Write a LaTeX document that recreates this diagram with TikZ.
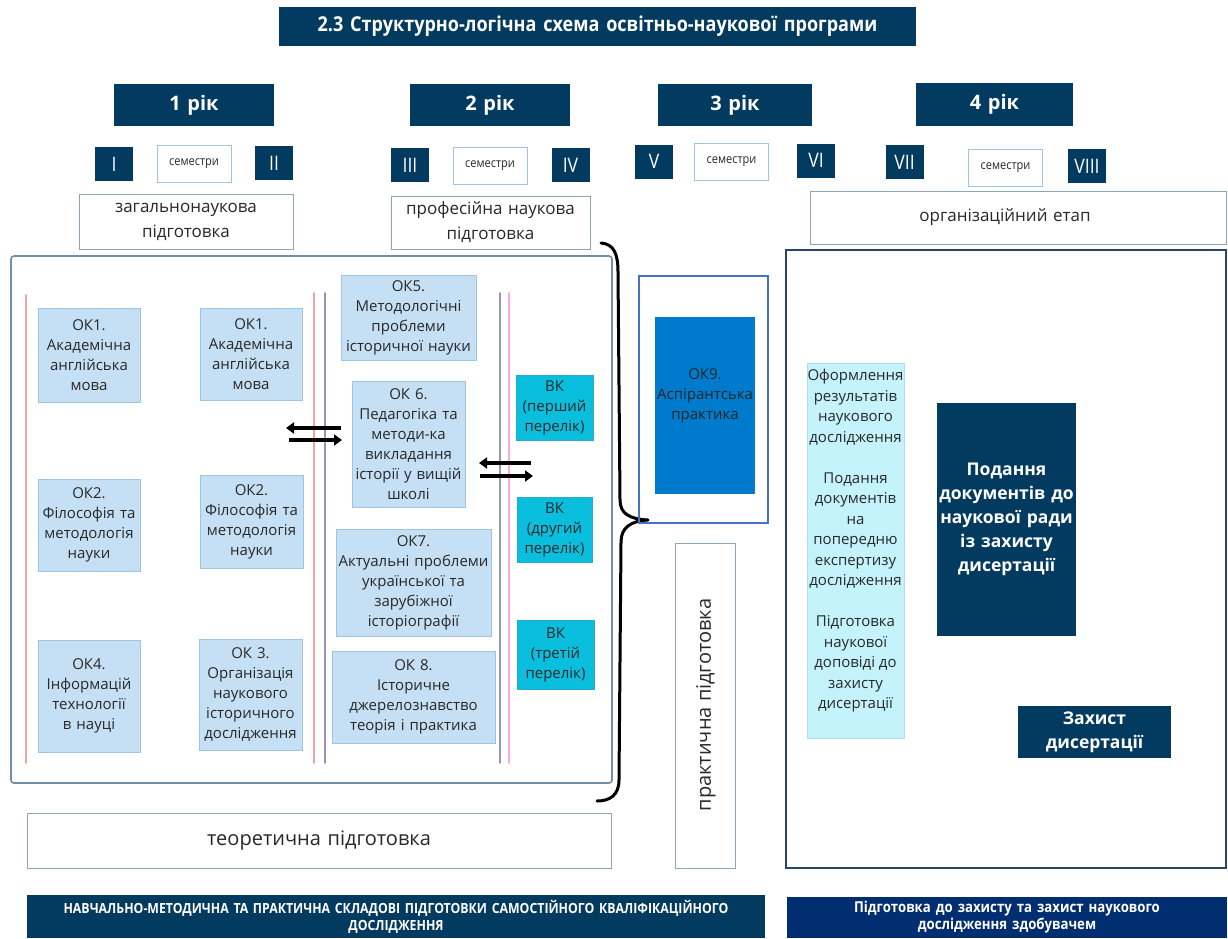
\documentclass[tikz,border=0pt]{standalone}
\usepackage{fontspec}
\setmainfont{Open Sans}
\newfontfamily\cond[FakeStretch=0.88]{Open Sans}
\usetikzlibrary{arrows.meta}
\definecolor{navy}{RGB}{3,58,96}
\definecolor{royal}{RGB}{0,46,112}
\definecolor{lbfill}{RGB}{197,224,244}
\definecolor{lbdraw}{RGB}{160,196,228}
\definecolor{vkfill}{RGB}{10,190,222}
\definecolor{vkdraw}{RGB}{40,170,210}
\definecolor{okfill}{RGB}{0,122,204}
\definecolor{cyfill}{RGB}{196,243,252}
\definecolor{cydraw}{RGB}{175,222,238}
\definecolor{framec}{RGB}{112,142,168}
\definecolor{pframe}{RGB}{68,114,196}
\definecolor{rframe}{RGB}{40,70,100}
\definecolor{txt}{RGB}{40,40,40}
\definecolor{redl}{RGB}{248,160,160}
\definecolor{greyl}{RGB}{150,150,180}
\definecolor{pinkl}{RGB}{250,170,220}
\begin{document}
\begin{tikzpicture}[x=1pt,y=-1pt,
  every node/.style={inner sep=0pt, outer sep=0pt, align=center, text=txt},
  wh/.style 2 args={text width=#1pt, minimum height=#2pt},
  dk/.style={fill=navy, text=white, font=\bfseries\fontsize{20}{24}\selectfont},
  sem/.style={fill=navy, text=white, font=\cond\fontsize{20}{24}\selectfont, minimum width=38pt, minimum height=34pt},
  semw/.style={draw=lbdraw, fill=white, line width=0.8pt, font=\cond\fontsize{12.5}{14}\selectfont, minimum width=74pt, minimum height=37pt},
  lbl/.style={draw=framec!80, fill=white, line width=0.8pt, font=\fontsize{17}{25}\selectfont},
  ok/.style={draw=lbdraw, fill=lbfill, line width=0.8pt, font=\fontsize{15}{20}\selectfont},
  vk/.style={draw=vkdraw, fill=vkfill, line width=0.8pt, font=\fontsize{15}{20}\selectfont},
  vline/.style={line width=1.6pt, line cap=round},
  arr/.style={line width=3.6pt, -{Triangle[length=8pt,width=11pt]}},
  banner/.style={text=white, font=\cond\bfseries\fontsize{14}{17}\selectfont},
  bigw/.style={fill=navy, text=white, font=\bfseries\fontsize{17.5}{24}\selectfont},
]
\useasboundingbox (0,0) rectangle (1228,938);
\fill[white] (0,0) rectangle (1228,938);

% title
\node[dk, font=\cond\bfseries\fontsize{20.5}{24}\selectfont, wh={637}{39}] (title) at (597.5,26.5) {2.3 Структурно-логічна схема освітньо-наукової програми};

% years
\node[dk, wh={160}{42}] (y1) at (194,105) {1 рік};
\node[dk, wh={160}{42}] (y2) at (490,105) {2 рік};
\node[dk, wh={154}{42}] (y3) at (735,105) {3 рік};
\node[dk, wh={157}{43}] (y4) at (994.5,104.5) {4 рік};

% semesters
\node[sem] (s1) at (114,164) {I};
\node[semw] (sw1) at (194,163.5) {семестри};
\node[sem] (s2) at (274,163) {II};
\node[sem] (s3) at (410,165) {III};
\node[semw] (sw2) at (490,165.5) {семестри};
\node[sem] (s4) at (570.5,165) {IV};
\node[sem] (s5) at (654,161.5) {V};
\node[semw] (sw3) at (731.5,161.5) {семестри};
\node[sem] (s6) at (816,160.5) {VI};
\node[sem] (s7) at (904.5,162) {VII};
\node[semw] (sw4) at (1005.5,167.5) {семестри};
\node[sem] (s8) at (1087,166) {VIII};

% stage labels
\node[lbl, wh={214}{55}] (gen) at (186,221.5) {загальнонаукова\\підготовка};
\node[lbl, wh={199}{53}] (prof) at (490.5,222.5) {професійна наукова\\підготовка};
\node[lbl, wh={416}{53}] (org) at (1018,217.5) {\hspace*{-26pt}організаційний етап};

% theory frame
\node[draw=framec, line width=1.6pt, rounded corners=3pt, wh={601}{527}] (theory) at (311.5,519.5) {};

% vertical lines
\draw[vline, redl] (26,295) -- (26,763);
\draw[vline, redl] (314,293) -- (314,763);
\draw[vline, greyl] (325,293) -- (325,763);
\draw[vline, greyl] (500,293) -- (500,763);
\draw[vline, pinkl] (509,293) -- (509,763);

% OK boxes
\node[ok, wh={102}{94}] (ok1l) at (89,355) {ОК1.\\Академічна\\англійська\\мова};
\node[ok, wh={102}{92}] (ok1m) at (251,354) {ОК1.\\Академічна\\англійська\\мова};
\node[ok, wh={102}{92}] (ok2l) at (89,525) {ОК2.\\Філософія та\\методологія\\науки};
\node[ok, wh={103}{93}] (ok2m) at (251.5,521.5) {ОК2.\\Філософія та\\методологія\\науки};
\node[ok, wh={102}{112}] (ok4) at (89,696) {ОК4.\\Інформацій\\технології\\в науці};
\node[ok, wh={103}{111}] (ok3) at (250.5,694.5) {ОК 3.\\Організація\\наукового\\історичного\\дослідження};
\node[ok, wh={135}{85}] (ok5) at (408.5,317.5) {ОК5.\\Методологічні\\проблеми\\історичної науки};
\node[ok, wh={113}{126}] (ok6) at (408.5,444) {ОК 6.\\Педагогіка та\\методи-ка\\викладання\\історії у вищій\\школі};
\node[ok, wh={155}{107}] (ok7) at (413.5,582.5) {ОК7.\\Актуальні проблеми\\української та\\зарубіжної\\історіографії};
\node[ok, wh={163}{92}] (ok8) at (413.5,697) {ОК 8.\\Історичне\\джерелознавство\\теорія і практика};

% VK boxes
\node[vk, wh={77}{65}] (vk1) at (554.5,407.5) {ВК\\(перший\\перелік)};
\node[vk, wh={75}{65}] (vk2) at (554.5,529.5) {ВК\\(другий\\перелік)};
\node[vk, wh={77}{69}] (vk3) at (555.5,654.5) {ВК\\(третій\\перелік)};

% arrows
\coordinate (a1r) at (341,428);
\coordinate (a1l) at (286,428);
\coordinate (b1l) at (289,440);
\coordinate (b1r) at (342,440);
\coordinate (a2r) at (531,463);
\coordinate (a2l) at (479,463);
\coordinate (b2l) at (480,476);
\coordinate (b2r) at (533,476);
\draw[arr] (a1r) -- (a1l);
\draw[arr] (b1l) -- (b1r);
\draw[arr] (a2r) -- (a2l);
\draw[arr] (b2l) -- (b2r);

% brace
\coordinate (brtop) at (601,243);
\coordinate (brtip) at (648,520);
\coordinate (brbot) at (597,801);
\draw[line width=3pt, line cap=round, line join=round]
  (brtop) .. controls (614,244) and (618,254) .. (618,272)
  -- (620,500) .. controls (620,514) and (630,519) .. (brtip)
  .. controls (630,521) and (621,528) .. (621,542)
  -- (619,780) .. controls (619,795) and (610,801) .. (brbot);

% practical
\node[draw=pframe, line width=1.6pt, wh={129}{247}] (pframe) at (703.5,399.5) {};
\node[fill=okfill, wh={100}{177}] (ok9) at (705,405.5) {};
\node[font=\fontsize{15}{20}\selectfont, text=black!85] (ok9t) at (705,396) {ОК9.\\Аспірантська\\практика};
\node[lbl, wh={60}{325}] (prac) at (705,705.5) {};
\node[rotate=90, font=\fontsize{20}{24}\selectfont] (pract) at (706,705) {практична підготовка};

% right frame
\node[draw=rframe, line width=1.6pt, wh={440}{618}] (rframe) at (1006,559) {};
\node[fill=cyfill, draw=cydraw, line width=0.8pt, wh={97}{375}] (cy) at (855.5,550.5) {};
\node[font=\fontsize{15}{20.5}\selectfont] (cyt) at (855.5,541) {Оформлення\\результатів\\наукового\\дослідження\\[20.5pt]Подання\\документів\\на\\попередню\\експертизу\\дослідження\\[20.5pt]Підготовка\\наукової\\доповіді до\\захисту\\дисертації};
\node[bigw, wh={139}{233}] (pod) at (1006.5,519.5) {Подання\\документів до\\наукової ради\\із захисту\\дисертації};
\node[bigw, wh={153}{52}] (zah) at (1094.5,732) {Захист\\дисертації};

% bottom
\node[lbl, font=\fontsize{20}{24}\selectfont, wh={584}{55}] (teor) at (319,840.5) {теоретична підготовка};
\node[banner, fill=navy, wh={738}{43}] (bl) at (396,916.5) {НАВЧАЛЬНО-МЕТОДИЧНА ТА ПРАКТИЧНА СКЛАДОВІ ПІДГОТОВКИ САМОСТІЙНОГО КВАЛІФІКАЦІЙНОГО\\ДОСЛІДЖЕННЯ};
\node[banner, font=\cond\bfseries\fontsize{15}{17}\selectfont, fill=royal, wh={440}{41}] (br) at (1007,917.5) {Підготовка до захисту та захист наукового\\дослідження здобувачем};
\end{tikzpicture}
\end{document}
